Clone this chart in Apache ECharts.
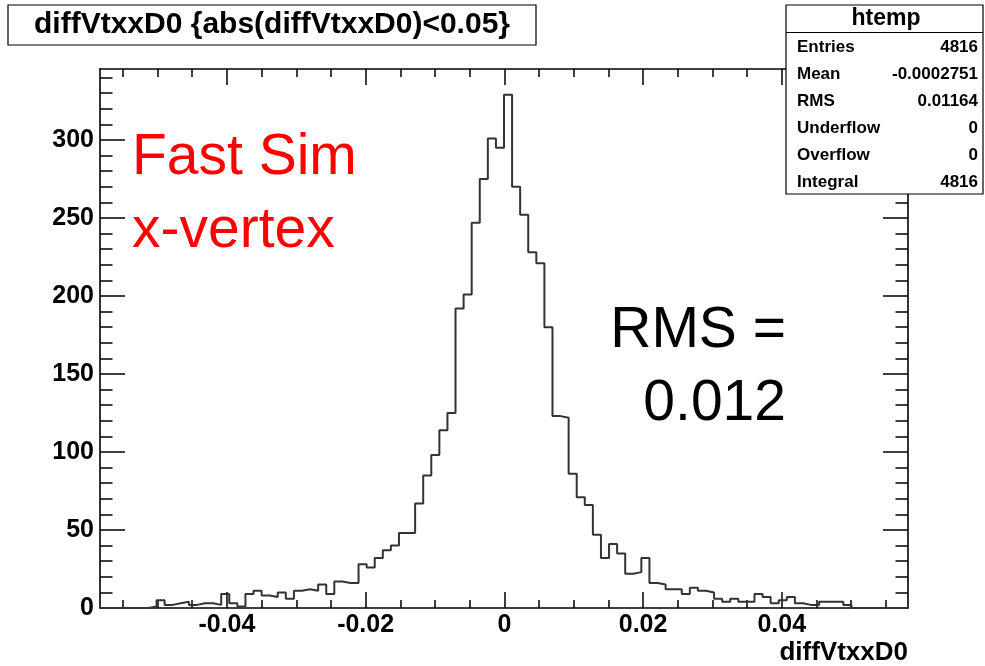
<!DOCTYPE html>
<html><head><meta charset="utf-8">
<script src="https://cdn.jsdelivr.net/npm/echarts@6/dist/echarts.min.js"></script>
<style>html,body{margin:0;padding:0;background:#fff}#c{width:985px;height:666px}</style>
</head><body><div id="c"></div>
<script>
// ---- data ----
const xMin = -0.0583;
const xMax = 0.0582;
const yMax = 345.5;
const counts = [
  0, 0, 0, 0, 0, 0, 1, 5, 2, 3,
  4, 2, 3, 3, 2, 9, 3, 1, 9, 11,
  8, 7, 10, 6, 11, 12, 11, 15, 9, 17,
  16, 16, 28, 26, 32, 37, 40, 48, 48, 67,
  85, 98, 114, 125, 192, 201, 247, 275, 301, 295,
  329, 270, 252, 228, 221, 180, 123, 122, 86, 71,
  66, 47, 32, 41, 35, 22, 23, 32, 16, 15,
  12, 12, 9, 13, 11, 10, 6, 4, 6, 4,
  4, 9, 7, 3, 5, 7, 3, 2, 2, 4,
  4, 4, 2, 0, 0, 0, 0, 0, 0, 0
];
const xMajorTicks = [-0.04, -0.02, 0, 0.02, 0.04];
const xMinorTicks = [-0.055, -0.05, -0.045, -0.04, -0.035, -0.03, -0.025, -0.02, -0.015, -0.01, -0.005, 0,
                     0.005, 0.01, 0.015, 0.02, 0.025, 0.03, 0.035, 0.04, 0.045, 0.05, 0.055];
const yMajorTicks = [0, 50, 100, 150, 200, 250, 300];
const yMinorTicks = [10, 20, 30, 40, 60, 70, 80, 90, 110, 120, 130, 140, 160, 170, 180, 190,
                     210, 220, 230, 240, 260, 270, 280, 290, 310, 320, 330, 340];
const titleText = 'diffVtxxD0 {abs(diffVtxxD0)<0.05}';
const xAxisTitle = 'diffVtxxD0';
const statsName = 'htemp';
const statsLabels = ['Entries', 'Mean', 'RMS', 'Underflow', 'Overflow', 'Integral'];
const statsValues = ['4816', '-0.0002751', '0.01164', '0', '0', '4816'];
const annotLeft = ['Fast Sim', 'x-vertex'];
const annotRight = ['RMS =', '0.012'];

// ---- build ----
const FF = '"Liberation Sans", Arial, Helvetica, sans-serif';
const binW = (xMax - xMin) / counts.length;
const histData = counts.map((c, i) => [xMin + i * binW, c]);
histData.push([xMax, 0]);

const lineSty = { color: '#000', width: 1.6 };
function xAx(pos, ticks, len, withLine, withLabel, extra) {
  return Object.assign({
    type: 'value', position: pos, min: xMin, max: xMax, gridIndex: 0,
    axisLine: { show: withLine, onZero: false, lineStyle: lineSty },
    axisTick: { show: true, inside: true, length: len, customValues: ticks, lineStyle: { color: '#000', width: 1.5 } },
    axisLabel: withLabel ? { show: true, customValues: xMajorTicks, margin: 5, color: '#000',
      fontFamily: FF, fontWeight: 'bold', fontSize: 25 } : { show: false },
    splitLine: { show: false }
  }, extra || {});
}
function yAx(pos, ticks, len, withLine, withLabel) {
  return {
    type: 'value', position: pos, min: 0, max: yMax, gridIndex: 0,
    axisLine: { show: withLine, onZero: false, lineStyle: lineSty },
    axisTick: { show: true, inside: true, length: len, customValues: ticks, lineStyle: { color: '#000', width: 1.5 } },
    axisLabel: withLabel ? { show: true, customValues: yMajorTicks, margin: 6, color: '#000',
      fontFamily: FF, fontWeight: 'bold', fontSize: 25 } : { show: false },
    splitLine: { show: false }
  };
}

const graphics = [];
// title box
graphics.push({ type: 'rect', z: 100, shape: { x: 8, y: 5, width: 528, height: 40 },
  style: { fill: '#fff', stroke: '#000', lineWidth: 1.2 } });
graphics.push({ type: 'text', z: 101, x: 272, y: 25,
  style: { text: titleText, fill: '#000', font: 'bold 30px ' + FF, align: 'center', verticalAlign: 'middle' } });
// stats box
graphics.push({ type: 'rect', z: 100, shape: { x: 786, y: 5, width: 197, height: 189 },
  style: { fill: '#fff', stroke: '#000', lineWidth: 1.2 } });
graphics.push({ type: 'line', z: 101, shape: { x1: 786, y1: 32.5, x2: 983, y2: 32.5 },
  style: { stroke: '#000', lineWidth: 1.2 } });
graphics.push({ type: 'text', z: 101, x: 886, y: 19,
  style: { text: statsName, fill: '#000', font: 'bold 23px ' + FF, align: 'center', verticalAlign: 'middle' } });
statsLabels.forEach((l, i) => {
  const yy = 47.5 + i * 27;
  graphics.push({ type: 'text', z: 101, x: 797, y: yy,
    style: { text: l, fill: '#000', font: 'bold 17px ' + FF, align: 'left', verticalAlign: 'middle' } });
  graphics.push({ type: 'text', z: 101, x: 978, y: yy,
    style: { text: statsValues[i], fill: '#000', font: 'bold 17px ' + FF, align: 'right', verticalAlign: 'middle' } });
});
// annotations
graphics.push({ type: 'text', z: 101, x: 132, y: 158,
  style: { text: annotLeft[0], fill: '#ff0000', font: '57px ' + FF, align: 'left', verticalAlign: 'middle' } });
graphics.push({ type: 'text', z: 101, x: 132, y: 231,
  style: { text: annotLeft[1], fill: '#ff0000', font: '57px ' + FF, align: 'left', verticalAlign: 'middle' } });
graphics.push({ type: 'text', z: 101, x: 786, y: 331,
  style: { text: annotRight[0], fill: '#000', font: '57px ' + FF, align: 'right', verticalAlign: 'middle' } });
graphics.push({ type: 'text', z: 101, x: 786, y: 404,
  style: { text: annotRight[1], fill: '#000', font: '57px ' + FF, align: 'right', verticalAlign: 'middle' } });

const option = {
  animation: false,
  backgroundColor: '#fff',
  grid: { left: 100, top: 69, width: 808, height: 539, containLabel: false, show: false },
  xAxis: [
    xAx('bottom', xMajorTicks, 16, true, true, {
      name: xAxisTitle, nameLocation: 'end', nameGap: 0,
      nameTextStyle: { color: '#000', fontFamily: FF, fontWeight: 'bold', fontSize: 26,
        align: 'right', verticalAlign: 'top', padding: [32, 0, 0, 0] }
    }),
    xAx('bottom', xMinorTicks, 8, false, false),
    xAx('top', xMajorTicks, 16, true, false),
    xAx('top', xMinorTicks, 8, false, false)
  ],
  yAxis: [
    yAx('left', yMajorTicks, 25, true, true),
    yAx('left', yMinorTicks, 12.5, false, false),
    yAx('right', yMajorTicks, 25, true, false),
    yAx('right', yMinorTicks, 12.5, false, false)
  ],
  series: [{
    type: 'line', xAxisIndex: 0, yAxisIndex: 0, step: 'end', data: histData,
    symbol: 'none', clip: true,
    lineStyle: { color: '#333', width: 2 }
  }],
  graphic: graphics
};
const chart = echarts.init(document.getElementById('c'));
chart.setOption(option);
</script>
</body></html>
